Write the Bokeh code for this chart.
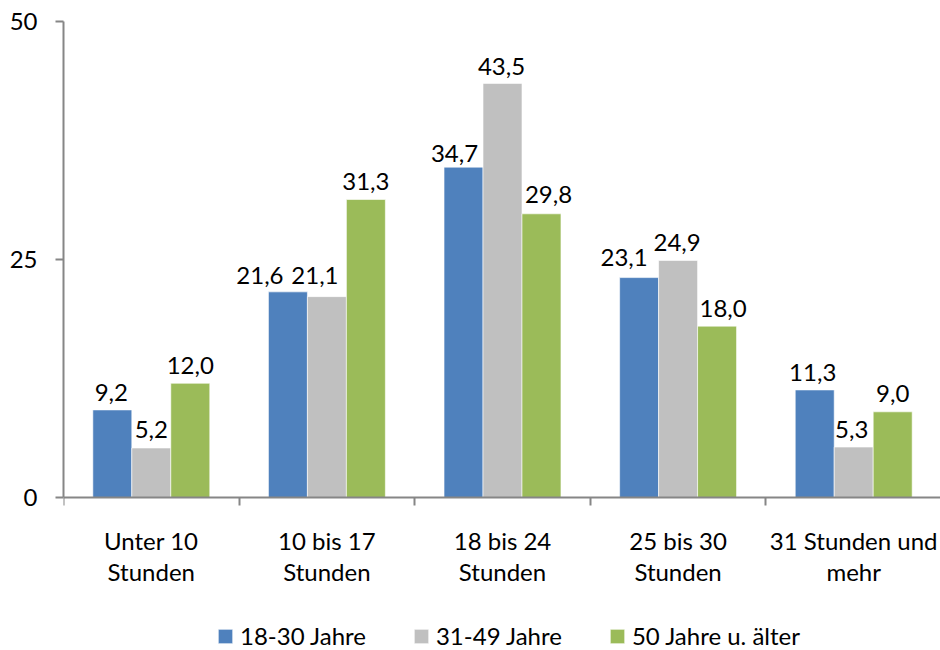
from bokeh.plotting import figure
from bokeh.models import (ColumnDataSource, Range1d, FixedTicker, LinearAxis, Legend,
                          LegendItem)
from bokeh.core.properties import value
from bokeh.embed import file_html
from bokeh.resources import INLINE

# Weekly hours bands (two-line axis labels) and the three age groups
cat_labels = ["Unter 10\nStunden", "10 bis 17\nStunden", "18 bis 24\nStunden",
              "25 bis 30\nStunden", "31 Stunden und\nmehr"]
series_names = ["18-30 Jahre", "31-49 Jahre", "50 Jahre u. älter"]
age_18_30 = [9.2, 21.6, 34.7, 23.1, 11.3]
age_31_49 = [5.2, 21.1, 43.5, 24.9, 5.3]
age_50_plus = [12.0, 31.3, 29.8, 18.0, 9.0]
y_ticks = [0, 25, 50]

# Small pixel nudges for value labels that would otherwise collide
nudge_x = [[-1, -28, -9, -15, -2], [0, -12, -1, -1, -2], [0, 0, 7, 6, 0]]
nudge_y = [[-17, -16, -14, -20, -17], [-18, -21, -17, -18, -18], [-18, -18, -19, -18, -18]]

colors = ["#4F81BD", "#C0C0C0", "#9BBB59"]
axis_color = "#868686"
FONT = "Lato"
FS = "24px"

W, H = 940, 650
LEFT, TOP = 63, 21
ZERO_Y = 497            # pixel row of the value axis origin
cat_px = 175.6
bar_w = 0.222
px_per_unit = (ZERO_Y - TOP) / 50.0
y_floor = -(H - ZERO_Y) / px_per_unit   # room under the bars for labels and legend

p = figure(width=W, height=H, output_backend="svg", toolbar_location=None,
           x_range=Range1d(0, (W - LEFT) / cat_px), y_range=Range1d(y_floor, 50),
           min_border_left=LEFT, min_border_right=0, min_border_top=TOP,
           min_border_bottom=0)
p.outline_line_color = None
p.xgrid.visible = False
p.ygrid.visible = False
p.background_fill_color = "white"
p.border_fill_color = "white"

series = [age_18_30, age_31_49, age_50_plus]
offsets = [-bar_w, 0.0, bar_w]
renderers = []
for vals, off, col, nx, ny in zip(series, offsets, colors, nudge_x, nudge_y):
    xs = [i + 0.5 + off for i in range(len(vals))]
    src = ColumnDataSource(dict(
        x=xs, top=vals,
        label=[f"{v:.1f}".replace(".", ",") for v in vals],
        dx=nx, dy=ny))
    r = p.vbar(x="x", top="top", width=bar_w, bottom=0, source=src,
               fill_color=col, line_color="white", line_alpha=0.6, line_width=1)
    renderers.append(r)
    p.text(x="x", y="top", text="label", source=src, x_offset="dx", y_offset="dy",
           text_align="center", text_baseline="alphabetic",
           text_font=value(FONT), text_font_size=FS, text_color="black")

# Category axis at y = 0: tick marks at the band boundaries, no labels
xa = p.xaxis[0]
xa.fixed_location = 0
xa.ticker = FixedTicker(ticks=list(range(0, 6)))
xa.major_label_text_color = None
xa.major_label_text_font_size = "1px"
xa.major_label_standoff = 0
xa.axis_line_color = axis_color
xa.axis_line_width = 2
xa.major_tick_line_color = axis_color
xa.major_tick_line_width = 2
xa.major_tick_in = 0
xa.major_tick_out = 8
xa.minor_tick_line_color = None

# Companion axis carrying the category names at the band centres
cat_axis = LinearAxis(fixed_location=0,
                      ticker=FixedTicker(ticks=[i + 0.5 for i in range(5)]),
                      major_label_overrides={i + 0.5: t for i, t in enumerate(cat_labels)},
                      axis_line_color=None, major_tick_line_color=None,
                      minor_tick_line_color=None, major_tick_out=0, major_tick_in=0,
                      major_label_standoff=28,
                      major_label_text_font=FONT, major_label_text_font_size=FS,
                      major_label_text_color="black", major_label_text_line_height=1.1)
p.add_layout(cat_axis, "below")

ya = p.yaxis[0]
ya.bounds = (0, 50)
ya.ticker = FixedTicker(ticks=y_ticks)
ya.axis_line_color = axis_color
ya.axis_line_width = 2
ya.major_tick_line_color = axis_color
ya.major_tick_line_width = 2
ya.major_tick_in = 0
ya.major_tick_out = 8
ya.minor_tick_line_color = None
ya.major_label_text_font = FONT
ya.major_label_text_font_size = FS
ya.major_label_text_color = "black"
ya.major_label_standoff = 18

legend = Legend(items=[LegendItem(label=n, renderers=[r]) for n, r in zip(series_names, renderers)],
                orientation="horizontal", location=(153, 0),
                glyph_width=18, glyph_height=18, label_standoff=6, spacing=46,
                padding=0, margin=0, border_line_color=None, background_fill_alpha=0,
                label_text_font=FONT, label_text_font_size=FS, label_text_color="black")
p.add_layout(legend, "center")

open("out.html", "w").write(file_html(p, INLINE))
